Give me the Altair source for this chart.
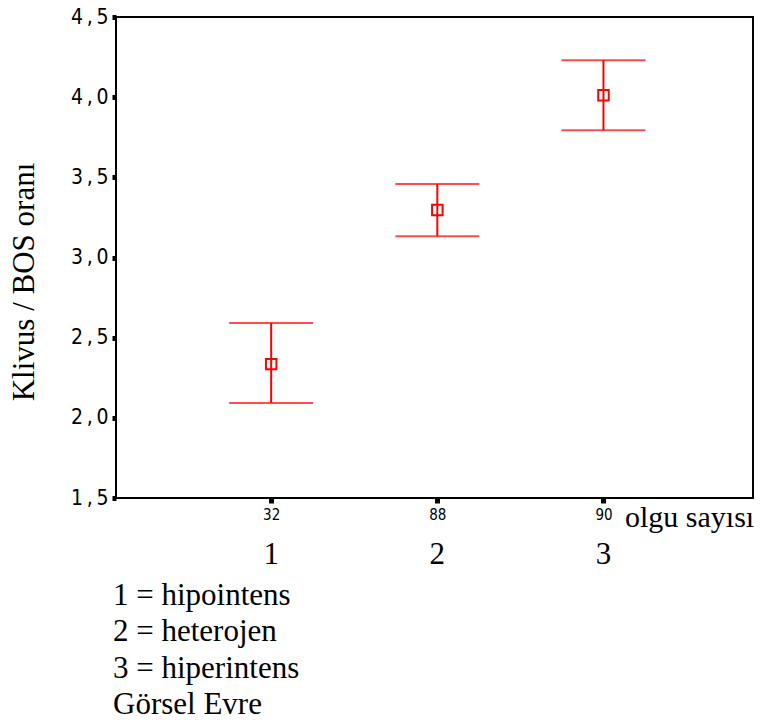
import altair as alt
import pandas as pd

groups = [1, 2, 3]
group_names = ["1", "2", "3"]
counts = ["32", "88", "90"]
means = [2.335, 3.296, 4.012]
lower = [2.092, 3.133, 3.794]
upper = [2.591, 3.458, 4.231]
legend_lines = ["1 = hipointens", "2 = heterojen", "3 = hiperintens", "Görsel Evre"]

df = pd.DataFrame({"g": groups, "name": group_names, "n": counts,
                   "mean": means, "lo": lower, "hi": upper})

RED = "#ff0000"
SANS = "DejaVu Sans Condensed, DejaVu Sans"
SERIF = "Liberation Serif"
xscale = alt.Scale(domain=[0.066, 3.9], nice=False, zero=False)
yscale = alt.Scale(domain=[1.5, 4.5], nice=False, zero=False)

base = alt.Chart(df)

xaxis = alt.Axis(values=[1, 2, 3], labelExpr="datum.value == 1 ? '32' : datum.value == 2 ? '88' : '90'",
                 title=None, grid=False, domain=False, tickSize=5, tickWidth=5, tickColor="black",
                 labelFont=SANS, labelFontSize=15, labelColor="black", labelPadding=4)
yaxis = alt.Axis(values=[1.5, 2.0, 2.5, 3.0, 3.5, 4.0, 4.5],
                 labelExpr="replace(format(datum.value, '.1f'), '.', '\u2009,\u2009')",
                 title=None, grid=False, domain=False, tickSize=4, tickWidth=5, tickColor="black",
                 labelFont=SANS, labelFontSize=21, labelColor="black", labelPadding=4,
                 labelBaseline="middle")

rules = base.mark_rule(color=RED, strokeWidth=2).encode(
    x=alt.X("g:Q", scale=xscale, axis=xaxis),
    y=alt.Y("lo:Q", scale=yscale, axis=yaxis),
    y2="hi:Q",
)
cap_lo = base.mark_tick(color=RED, size=84, thickness=2, orient="horizontal").encode(
    x=alt.X("g:Q", scale=xscale), y=alt.Y("lo:Q", scale=yscale))
cap_hi = base.mark_tick(color=RED, size=84, thickness=2, orient="horizontal").encode(
    x=alt.X("g:Q", scale=xscale), y=alt.Y("hi:Q", scale=yscale))
pts = base.mark_point(shape="square", color=RED, filled=False, strokeWidth=2,
                      size=110, opacity=1).encode(
    x=alt.X("g:Q", scale=xscale), y=alt.Y("mean:Q", scale=yscale))

grp_text = base.mark_text(font=SERIF, fontSize=31, color="black",
                          baseline="alphabetic", align="center").encode(
    x=alt.X("g:Q", scale=xscale), y=alt.value(547), text="name:N")

olgu = alt.Chart(pd.DataFrame({"t": ["olgu sayısı"]})).mark_text(
    font=SERIF, fontSize=30, color="black", align="left", baseline="alphabetic"
).encode(x=alt.value(509), y=alt.value(510), text="t:N")

legend = alt.Chart(pd.DataFrame({"t": [0]})).mark_text(
    font=SERIF, fontSize=31, color="black", align="left", baseline="alphabetic",
    lineHeight=36.3, text=legend_lines
).encode(x=alt.value(-3), y=alt.value(588))

ytitle = alt.Chart(pd.DataFrame({"t": ["Klivus / BOS oranı"]})).mark_text(
    font=SERIF, fontSize=31, color="black", align="center", baseline="middle",
    angle=270
).encode(x=alt.value(-91), y=alt.value(265), text="t:N")

chart = alt.layer(rules, cap_lo, cap_hi, pts, grp_text, olgu, legend, ytitle).properties(
    width=637, height=481,
    padding={"left": 108, "top": 9, "right": 4, "bottom": 218},
    autosize=alt.AutoSizeParams(type="none"),
    background="white",
).configure_view(stroke="black", strokeWidth=2)

chart.save("out.html", embed_options={"renderer": "svg", "actions": False})
